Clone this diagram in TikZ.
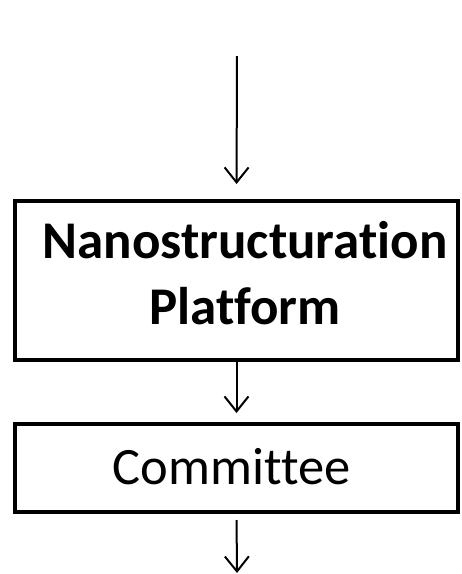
\documentclass[tikz,border=0pt]{standalone}
\usepackage{fontspec}
\setmainfont[Ligatures={NoCommon}]{Carlito}
\usetikzlibrary{arrows.meta, positioning}
\tikzset{
  stagebox/.style={rectangle, draw=black, line width=4pt, align=center,
    minimum width=443pt, inner sep=0pt},
  flowarrow/.style={-{Straight Barb[length=15pt,width=24pt,line width=2pt]}, line width=2pt, color=black}
}
\begin{document}
\begin{tikzpicture}[x=1pt, y=-1pt]
  \useasboundingbox (0,0) rectangle (462,574);

  % -- stages --
  \node[stagebox, minimum height=159pt, text depth=16pt, font=\fontsize{53}{66}\selectfont\bfseries]
    (plat) at (236.5,280.5) {\hspace*{17pt}Nanostructuration\\\hspace*{17pt}Platform};
  \node[stagebox, minimum height=88pt, text depth=4pt, font=\fontsize{52.5}{60}\selectfont]
    (comm) at (236.5,468) {Committee\hspace*{10pt}};

  % -- flow --
  \coordinate (intop) at (237,56);
  \coordinate (outbot) at (237,573);
  \draw[flowarrow, shorten >=15pt] (intop) -- (plat.north);
  \draw[flowarrow, shorten >=9pt] (plat.south) -- (comm.north);
  \draw[flowarrow, shorten <=6pt] (comm.south) -- (outbot);
\end{tikzpicture}
\end{document}
